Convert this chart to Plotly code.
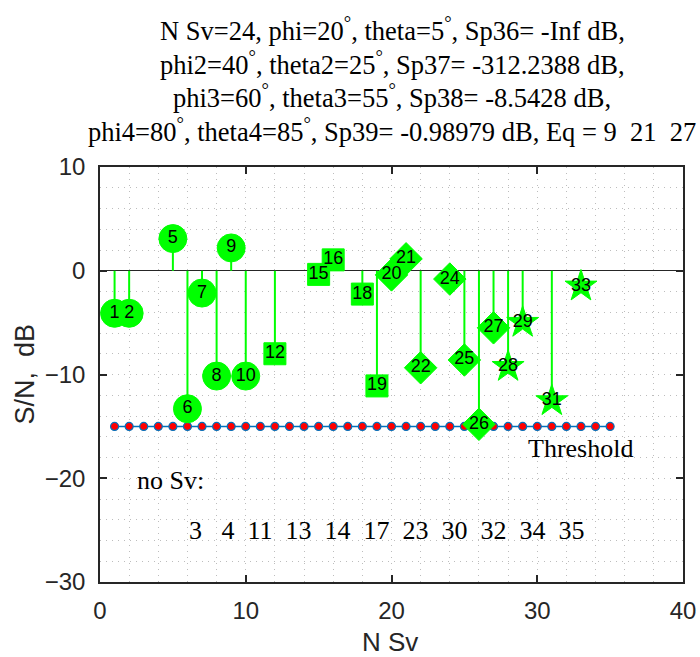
import plotly.graph_objects as go

# ---------------- data ----------------
sv_circle = [1, 2, 5, 6, 7, 8, 9, 10]
snr_circle = [-4.1, -4.1, 3.1, -13.3, -2.15, -10.15, 2.2, -10.15]

sv_square = [12, 15, 16, 18, 19]
snr_square = [-8.0, -0.35, 1.05, -2.25, -11.1]

sv_diamond = [20, 21, 22, 24, 25, 26, 27]
snr_diamond = [-0.4, 1.15, -9.35, -0.8, -8.6, -14.8, -5.5]

sv_star = [28, 29, 31, 33]
snr_star = [-9.25, -5.0, -12.55, -1.5]

threshold_x = list(range(1, 36))
threshold_db = -15

no_sv = [3, 4, 11, 13, 14, 17, 23, 30, 32, 34, 35]

title_lines = [
    "N Sv=24, phi=20<sup>°</sup>, theta=5<sup>°</sup>, Sp36= -Inf dB,",
    "phi2=40<sup>°</sup>, theta2=25<sup>°</sup>, Sp37= -312.2388 dB,",
    "phi3=60<sup>°</sup>, theta3=55<sup>°</sup>, Sp38= -8.5428 dB,",
    "phi4=80<sup>°</sup>, theta4=85<sup>°</sup>, Sp39= -0.98979 dB, Eq = 9\u00a0\u00a021\u00a0\u00a027",
]
x_label = "N Sv"
y_label = "S/N,\u00a0\u00a0dB"

GREEN = "#00FF00"
SERIF = "Liberation Serif"
SANS = "Liberation Sans"

fig = go.Figure()

# threshold line
fig.add_trace(go.Scatter(
    x=threshold_x, y=[threshold_db] * len(threshold_x), mode="lines+markers",
    line=dict(color="#0072BD", width=1.5),
    marker=dict(symbol="circle", size=8, color="#FF0000",
                line=dict(color="#0072BD", width=1.2)),
    hoverinfo="skip", showlegend=False))

# stems
all_sv = sv_circle + sv_square + sv_diamond + sv_star
all_db = snr_circle + snr_square + snr_diamond + snr_star
sx, sy = [], []
for s, v in zip(all_sv, all_db):
    sx += [s, s, None]
    sy += [0, v, None]
fig.add_trace(go.Scatter(x=sx, y=sy, mode="lines",
                         line=dict(color=GREEN, width=2),
                         hoverinfo="skip", showlegend=False))

def marker_trace(xs, ys, symbol, size):
    return go.Scatter(x=xs, y=ys, mode="markers",
                      marker=dict(symbol=symbol, size=size, color=GREEN,
                                  line=dict(color=GREEN, width=1)),
                      showlegend=False)

fig.add_trace(marker_trace(sv_circle, snr_circle, "circle", 28))
fig.add_trace(marker_trace(sv_square, snr_square, "square", 22))
fig.add_trace(marker_trace(sv_diamond, snr_diamond, "diamond", 25))
fig.add_trace(marker_trace(sv_star, snr_star, "star", 24))

# labels on markers
fig.add_trace(go.Scatter(
    x=all_sv, y=all_db, mode="text", text=[str(s) for s in all_sv],
    textposition="middle center",
    textfont=dict(family=SANS, size=18, color="black"),
    hoverinfo="skip", showlegend=False))

# text annotations in the axes
num_str = "".join(f"{n:4d}" for n in no_sv).strip().replace(" ", "\u00a0")
annots = [
    dict(x=29.2, y=-17.1, text="Threshold", xanchor="left", yanchor="middle"),
    dict(x=2.4, y=-20.2, text="no Sv:", xanchor="left", yanchor="middle"),
    dict(x=5.95, y=-25.0, text=num_str, xanchor="left", yanchor="middle"),
]
for a in annots:
    fig.add_annotation(xref="x", yref="y", showarrow=False,
                       font=dict(family=SERIF, size=26, color="black"), **a)

# layout geometry (pixels)
PLOT_TOP, PLOT_BOTTOM, PLOT_LEFT, PLOT_RIGHT = 167, 582, 100, 683
ph = PLOT_BOTTOM - PLOT_TOP
pw = PLOT_RIGHT - PLOT_LEFT

def px_x(px):
    return (px - PLOT_LEFT) / pw

def px_y(py):
    return (PLOT_BOTTOM - py) / ph

# multi-line title
for i, line in enumerate(title_lines):
    ypx = 29 + 33.7 * i
    fig.add_annotation(xref="paper", yref="paper", x=px_x(392), y=px_y(ypx),
                       text=line, showarrow=False,
                       xanchor="center", yanchor="middle",
                       font=dict(family=SERIF, size=26.5, color="black"))

# axis titles
fig.add_annotation(xref="paper", yref="paper", x=px_x(390), y=px_y(642),
                   text=x_label, showarrow=False, xanchor="center", yanchor="middle",
                   font=dict(family=SANS, size=26, color="#262626"))
fig.add_annotation(xref="paper", yref="paper", x=px_x(24), y=px_y(374.5),
                   text=y_label, showarrow=False, xanchor="center", yanchor="middle",
                   textangle=-90,
                   font=dict(family=SANS, size=27, color="#262626"))

axis_common = dict(
    showline=True, linecolor="#262626", linewidth=1.5, mirror="ticks",
    ticks="inside", ticklen=7, tickwidth=1.5, tickcolor="#262626",
    showgrid=True, gridcolor="#bdbdbd", gridwidth=1, griddash="1px,5px",
    tickfont=dict(family=SANS, size=24, color="#262626"),
    automargin=False,
)

fig.update_xaxes(
    range=[0, 40], dtick=10, tick0=0, zeroline=False,
    minor=dict(dtick=2, showgrid=True, gridcolor="#bdbdbd", gridwidth=1,
               griddash="1px,5px", ticks=""),
    ticklabelstandoff=6,
    **axis_common)
fig.update_yaxes(
    range=[-30, 10], dtick=10, tick0=0,
    zeroline=True, zerolinecolor="#262626", zerolinewidth=1.2,
    minor=dict(dtick=2, showgrid=True, gridcolor="#bdbdbd", gridwidth=1,
               griddash="1px,5px", ticks=""),
    ticklabelstandoff=8,
    **axis_common)

fig.update_layout(
    width=700, height=657,
    margin=dict(l=PLOT_LEFT, r=700 - PLOT_RIGHT, t=PLOT_TOP, b=657 - PLOT_BOTTOM),
    paper_bgcolor="white", plot_bgcolor="white",
    showlegend=False,
)

fig.write_html("out.html")
